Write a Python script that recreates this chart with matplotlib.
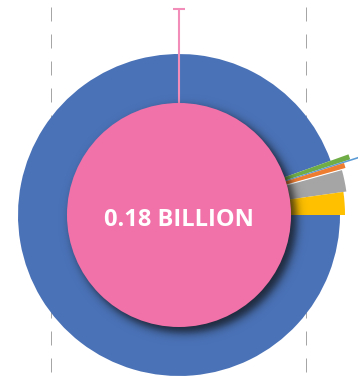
import numpy as np
import matplotlib
matplotlib.use("Agg")
import matplotlib.pyplot as plt
from matplotlib.patches import Wedge, Circle

# slices of the outer rose, counter-clockwise from 3 o'clock
slice_names = ["Other 1", "Other 2", "Other 3", "Other 4", "Other 5", "Main"]
slice_share = [2.22, 2.11, 0.53, 0.14, 0.47, 94.53]   # % of the full turn
slice_radius = [166, 169, 173, 260, 180, 161]        # px
slice_colors = ["#FFC000", "#A5A5A5", "#ED7D31", "#5B9BD5", "#70AD47", "#4A72B7"]

# centre bubble
bubble_value = 0.18          # billion
bubble_err_up = 94           # px above the bubble edge
px_per_sqrt_billion = 264.0

W, H = 358, 378
cx, cy = 179, H - 215

fig = plt.figure(figsize=(W / 100, H / 100), dpi=100)
ax = fig.add_axes([0, 0, 1, 1])
ax.set_xlim(0, W)
ax.set_ylim(0, H)
ax.axis("off")

# dashed guides behind everything
for gx in (51, 306):
    ax.plot([gx, gx], [H - 7, 0], color="#A6A6A6", lw=0.72,
            linestyle=(0, (14, 13)), zorder=0)

# rose slices
start = 0.0
order = np.argsort([-r for r in slice_radius])
angles = []
for share in slice_share:
    end = start + share * 3.6
    angles.append((start, end))
    start = end
for i in order:
    t1, t2 = angles[i]
    ax.add_patch(Wedge((cx, cy), slice_radius[i], t1, t2,
                       facecolor=slice_colors[i], edgecolor="none", zorder=1 + 0.01 * (6 - i)))
# small white split between grey and orange
ax.plot([cx, cx + 175 * np.cos(np.radians(angles[2][0]))],
        [cy, cy + 175 * np.sin(np.radians(angles[2][0]))], color="white", lw=0.8, zorder=1.5)

r_bub = px_per_sqrt_billion * np.sqrt(bubble_value)

# error bar above the bubble
eb = ax.errorbar(cx, cy, yerr=[[0], [r_bub + bubble_err_up]], fmt="none",
                 ecolor="#F28DBA", elinewidth=1.5, capsize=4.5, capthick=1.5, zorder=2)
for cap in eb[1]:
    cap.set_color("#EA6AA2")

# soft drop shadow under the bubble
pad = 24
xs = np.arange(cx - r_bub - pad, cx + r_bub + pad, 0.5)
ys = np.arange(cy - r_bub - pad, cy + r_bub + pad, 0.5)
X, Y = np.meshgrid(xs, ys)
d = np.hypot(X - (cx + 5), Y - (cy - 5))
alpha = 0.75 / (1 + np.exp((d - r_bub - 1) / 2.6))
img = np.zeros(X.shape + (4,))
img[..., 3] = alpha
img[..., :3] = 0.06
ax.imshow(img, extent=(xs[0], xs[-1], ys[0], ys[-1]), origin="lower",
          interpolation="bilinear", zorder=3)

ax.add_patch(Circle((cx, cy), r_bub, facecolor="#F172A9", edgecolor="none", zorder=4))
ax.text(cx - 0.5, H - 226, f"{bubble_value:.2f} BILLION", color="white",
        fontsize=17, fontweight="bold", family="Open Sans",
        ha="center", va="baseline", zorder=5)

ax.set_xlim(0, W)
ax.set_ylim(0, H)
fig.savefig("out.png", dpi=100)
